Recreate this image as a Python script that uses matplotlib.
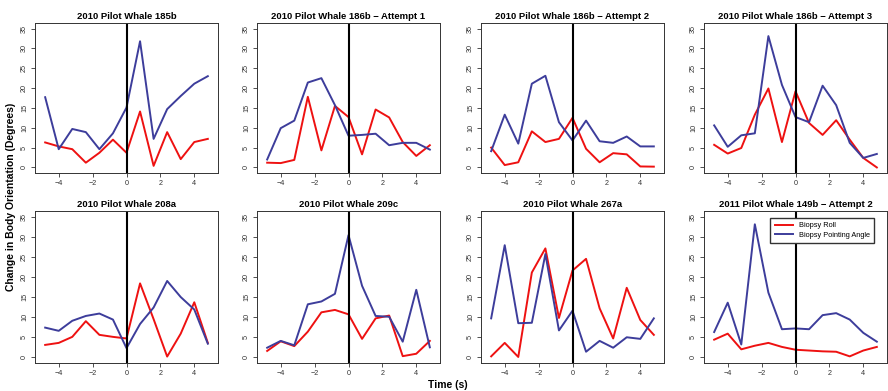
import matplotlib
matplotlib.use("Agg")
import matplotlib.pyplot as plt

plt.rcParams["font.family"] = ["Liberation Sans", "DejaVu Sans"]

time_s = [-4.8, -4.0, -3.2, -2.4, -1.6, -0.8, 0.0, 0.8, 1.6, 2.4, 3.2, 4.0, 4.8]

titles = [
    "2010 Pilot Whale 185b",
    "2010 Pilot Whale 186b \u2212 Attempt 1",
    "2010 Pilot Whale 186b \u2212 Attempt 2",
    "2010 Pilot Whale 186b \u2212 Attempt 3",
    "2010 Pilot Whale 208a",
    "2010 Pilot Whale 209c",
    "2010 Pilot Whale 267a",
    "2011 Pilot Whale 149b \u2212 Attempt 2",
]

# biopsy roll (red) per whale
roll_185b = [6.3, 5.3, 4.6, 1.2, 3.7, 7.0, 3.7, 14.1, 0.4, 8.9, 2.1, 6.4, 7.2]
roll_186b_1 = [1.2, 1.1, 1.9, 17.8, 4.3, 15.5, 12.7, 3.3, 14.6, 12.6, 6.4, 2.9, 5.6]
roll_186b_2 = [5.0, 0.6, 1.3, 9.1, 6.4, 7.2, 12.5, 4.7, 1.3, 3.6, 3.3, 0.25, 0.2]
roll_186b_3 = [5.7, 3.5, 4.9, 13.3, 19.9, 6.4, 19.2, 11.2, 8.2, 11.9, 7.0, 2.4, 0.0]
roll_208a = [3.1, 3.6, 5.1, 9.0, 5.6, 5.1, 4.7, 18.4, 9.5, 0.2, 5.9, 13.7, 3.6]
roll_209c = [1.6, 4.0, 2.8, 6.4, 11.2, 11.8, 10.7, 4.6, 9.7, 10.4, 0.3, 0.9, 4.1]
roll_267a = [0.25, 3.6, 0.1, 21.1, 27.1, 9.8, 21.6, 24.5, 12.2, 4.7, 17.3, 9.3, 5.6]
roll_149b_2 = [4.4, 5.9, 2.0, 2.9, 3.6, 2.6, 1.9, 1.7, 1.5, 1.4, 0.25, 1.7, 2.6]

# biopsy pointing angle (blue) per whale
point_185b = [17.7, 4.6, 9.7, 8.9, 4.6, 8.6, 15.1, 31.8, 7.2, 14.7, 18.0, 21.1, 23.0]
point_186b_1 = [2.0, 9.9, 11.8, 21.4, 22.5, 15.7, 8.0, 8.2, 8.5, 5.6, 6.2, 6.2, 4.5]
point_186b_2 = [4.1, 13.3, 6.0, 21.1, 23.1, 11.4, 6.8, 11.8, 6.6, 6.2, 7.8, 5.3, 5.3]
point_186b_3 = [10.6, 5.2, 8.1, 8.6, 33.1, 20.8, 12.7, 11.4, 20.6, 15.7, 6.2, 2.4, 3.4]
point_208a = [7.4, 6.6, 9.1, 10.3, 10.9, 9.4, 2.3, 8.3, 12.4, 19.0, 15.0, 11.9, 3.4]
point_209c = [2.4, 4.1, 3.0, 13.2, 13.9, 15.8, 30.4, 17.8, 10.3, 10.1, 3.9, 16.8, 2.5]
point_267a = [9.7, 27.9, 8.5, 8.6, 25.7, 6.7, 11.6, 1.4, 4.1, 2.4, 5.0, 4.6, 9.7]
point_149b_2 = [6.3, 13.6, 3.2, 33.1, 16.1, 7.0, 7.2, 7.0, 10.5, 11.0, 9.4, 6.1, 3.9]

rolls = [roll_185b, roll_186b_1, roll_186b_2, roll_186b_3,
         roll_208a, roll_209c, roll_267a, roll_149b_2]
points = [point_185b, point_186b_1, point_186b_2, point_186b_3,
          point_208a, point_209c, point_267a, point_149b_2]

W, H = 888, 391
fig = plt.figure(figsize=(W / 100, H / 100), dpi=100)

lefts = [35, 257, 481, 704]
width = 183
rows = [(23, 173), (211, 363)]

red = "#ee1111"
blue = "#3d3d9b"

axes = []
for i in range(8):
    r, c = divmod(i, 4)
    top, bot = rows[r]
    ax = fig.add_axes([lefts[c] / W, 1 - bot / H, width / W, (bot - top) / H])
    ax.plot(time_s, rolls[i], color=red, lw=1.4, label="Biopsy Roll")
    ax.plot(time_s, points[i], color=blue, lw=1.4, label="Biopsy Pointing Angle")
    ax.axvline(0, color="black", lw=1.5)
    ax.set_xlim(-5.4, 5.4)
    ax.set_ylim(-1.4, 36.4)
    ax.set_xticks([-4, -2, 0, 2, 4])
    ax.set_yticks(range(0, 36, 5))
    ax.tick_params(axis="both", labelsize=5.2, length=3, width=0.6,
                   colors="#333333", pad=2)
    for lab in ax.get_yticklabels():
        lab.set_rotation(90)
        lab.set_va("center")
    for sp in ax.spines.values():
        sp.set_linewidth(0.7)
        sp.set_color("#333333")
    ax.set_title(titles[i], fontsize=6.8, fontweight="bold", pad=3)
    axes.append(ax)

axes[7].legend(loc="upper right", bbox_to_anchor=(878 / W, 1 - 214 / H),
               bbox_transform=fig.transFigure, fontsize=5.3, frameon=True,
               fancybox=False, edgecolor="#333333", framealpha=1,
               handlelength=2.5, borderpad=0.6, labelspacing=0.3)

fig.text(11 / W, 1 - 197 / H, "Change in Body Orientation (Degrees)",
         rotation=90, ha="center", va="center", fontsize=7.5, fontweight="bold")
fig.text(448 / W, 1 - 385 / H, "Time (s)", ha="center", va="center",
         fontsize=7.5, fontweight="bold")

fig.savefig("out.png", dpi=100)
